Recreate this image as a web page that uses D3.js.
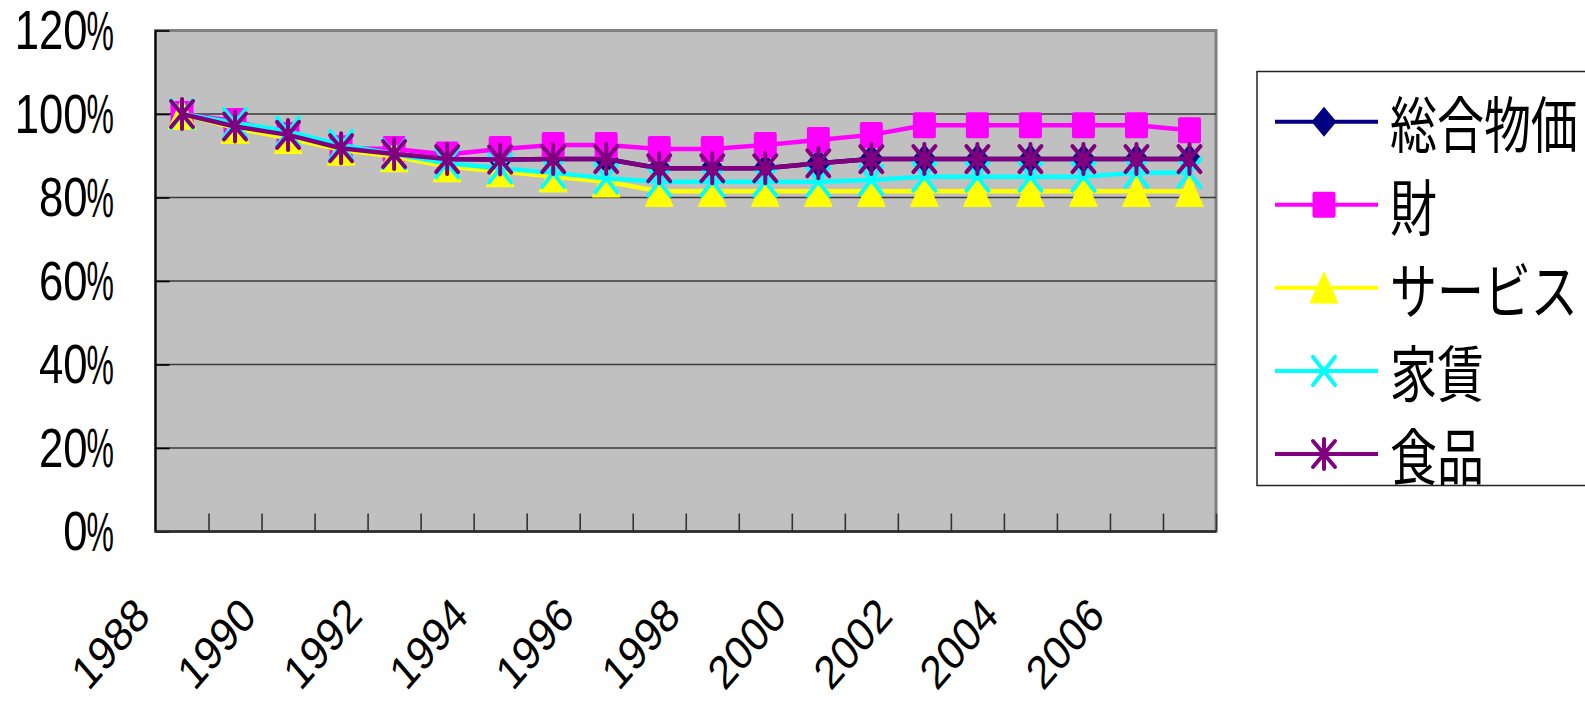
<!DOCTYPE html>
<html>
<head>
<meta charset="utf-8">
<script src="https://cdn.jsdelivr.net/npm/d3@7"></script>
<style>
html,body{margin:0;padding:0;background:#fff;overflow:hidden;}
svg{display:block;}
</style>
</head>
<body>
<svg id="chart" width="1585" height="715"></svg>
<script>
// ---- data ----
const years = [1988,1989,1990,1991,1992,1993,1994,1995,1996,1997,1998,1999,2000,2001,2002,2003,2004,2005,2006,2007];
const yearLabels = ["1988","1990","1992","1994","1996","1998","2000","2002","2004","2006"];
const yTicks = [0,0.2,0.4,0.6,0.8,1.0,1.2];
const seriesNames = ["総合物価","財","サービス","家賃","食品"];
const sogo    = [100,97.0,95.0,91.8,90.4,89.2,89.1,89.2,89.2,87.0,87.0,87.0,88.2,89.2,89.2,89.2,89.2,89.2,89.2,89.2];
const zai     = [100,98.3,95.0,91.8,91.6,90.3,91.6,92.6,92.6,91.6,91.6,92.6,93.8,95.0,97.3,97.3,97.3,97.3,97.3,96.1];
const service = [100,96.6,94.2,91.4,89.8,87.4,86.2,85.0,83.8,81.5,81.5,81.5,81.5,81.5,81.5,81.5,81.5,81.5,81.5,81.5];
const yachin  = [100,97.9,95.8,92.6,90.4,88.2,87.0,85.9,84.6,83.8,83.8,83.8,83.8,84.2,85.0,85.0,85.0,85.0,85.9,85.9];
const shokuhin= [100,97.0,95.0,91.8,90.4,89.2,89.1,89.2,89.2,87.0,87.0,87.0,88.2,89.2,89.2,89.2,89.2,89.2,89.2,89.2];
const seriesValues = [sogo, zai, service, yachin, shokuhin];

// ---- style ----
const colors = ["#000080","#FF00FF","#FFFF00","#00FFFF","#800080"];
const markers = ["diamond","square","triangle","x","star"];

const svg = d3.select("#chart");
const L = 155.5, R = 1216, T = 30.5, B = 531.5;

const x = d3.scaleBand().domain(years).range([L, R]).paddingInner(0).paddingOuter(0);
const y = d3.scaleLinear().domain([0, 1.2]).range([B, T]);
const cx = d => x(d) + x.bandwidth()/2;

// plot area
svg.append("rect").attr("x", L).attr("y", T).attr("width", R-L).attr("height", B-T)
  .attr("fill", "#C0C0C0").attr("stroke", "#808080").attr("stroke-width", 3);

// gridlines
svg.append("g").selectAll("line").data(yTicks.filter(v => v > 0 && v < 1.2)).join("line")
  .attr("x1", L).attr("x2", R).attr("y1", d => y(d)).attr("y2", d => y(d))
  .attr("stroke", "#3a3a3a").attr("stroke-width", 1.5);

// left axis ticks (inside)
const yAxis = d3.axisLeft(y).tickValues(yTicks).tickSize(-14).tickFormat("");
const gy = svg.append("g").attr("transform", `translate(${L},0)`).call(yAxis);
gy.select(".domain").remove();
gy.selectAll(".tick line").attr("stroke", "#000").attr("stroke-width", 1.6);
svg.append("line").attr("x1", L).attr("x2", L).attr("y1", T).attr("y2", B)
  .attr("stroke", "#000").attr("stroke-width", 2);

// bottom axis with category-boundary ticks
const xb = d3.scaleLinear().domain([0, years.length]).range([L, R]);
const xAxis = d3.axisBottom(xb).tickValues(d3.range(1, years.length + 1)).tickSize(-18).tickFormat("");
const gx = svg.append("g").attr("transform", `translate(0,${B})`).call(xAxis);
gx.select(".domain").remove();
gx.selectAll(".tick line").attr("stroke", "#333").attr("stroke-width", 1.6);
svg.append("line").attr("x1", L).attr("x2", R).attr("y1", B).attr("y2", B)
  .attr("stroke", "#2a2a2a").attr("stroke-width", 2.5);

// y labels: number part and % sign with different horizontal compression
const FS = 56, SXD = 0.78, SXP = 0.55;
const pctW = 0.889 * FS * SXP;
const yl = svg.append("g").selectAll("g").data(yTicks).join("g")
  .attr("transform", d => `translate(114,${y(d)})`);
yl.append("g").attr("transform", `scale(${SXP},1)`)
  .append("text").attr("text-anchor", "end").attr("dominant-baseline", "central")
  .attr("font-family", "'Liberation Sans', Arial, sans-serif").attr("font-size", FS)
  .attr("fill", "#000").text("%");
yl.append("g").attr("transform", `translate(${-pctW + 1},0) scale(${SXD},1)`)
  .append("text").attr("text-anchor", "end").attr("dominant-baseline", "central")
  .attr("font-family", "'Liberation Sans', Arial, sans-serif").attr("font-size", FS)
  .attr("fill", "#000").text(d => d3.format(".0f")(d * 100));

// x labels
svg.append("g").selectAll("g").data(yearLabels).join("g")
  .attr("transform", d => `translate(${cx(+d) - 30},618) scale(0.86,1) rotate(-45)`)
  .append("text")
  .attr("text-anchor", "end")
  .attr("font-family", "'Liberation Sans', Arial, sans-serif").attr("font-size", 47)
  .attr("fill", "#000")
  .text(d => d);

// marker drawing
function drawMarker(g, type, color) {
  if (type === "diamond") {
    g.append("path").attr("d", "M0,-15 L12.5,0 L0,15 L-12.5,0 Z").attr("fill", color);
  } else if (type === "square") {
    g.append("rect").attr("x", -11.5).attr("y", -13).attr("width", 23).attr("height", 26)
      .attr("rx", 2).attr("fill", color);
  } else if (type === "triangle") {
    g.append("path").attr("d", "M0,-15 L13.5,15 L-13.5,15 Z").attr("fill", color)
      .attr("stroke", color).attr("stroke-width", 1.5).attr("stroke-linejoin", "round");
  } else if (type === "x") {
    g.append("path").attr("d", "M-11,-14 L11,14 M11,-14 L-11,14")
      .attr("stroke", color).attr("stroke-width", 4).attr("fill", "none").attr("stroke-linecap", "round");
  } else if (type === "star") {
    g.append("path").attr("d", "M0,-15 L0,15 M-11,-13 L11,13 M11,-13 L-11,13")
      .attr("stroke", color).attr("stroke-width", 4).attr("fill", "none").attr("stroke-linecap", "round");
  }
}

// series
const line = d3.line().x((d,i) => cx(years[i])).y(d => y(d/100));
seriesValues.forEach((vals, si) => {
  const g = svg.append("g");
  g.append("path").datum(vals).attr("d", line)
    .attr("fill", "none").attr("stroke", colors[si]).attr("stroke-width", 4.5)
    .attr("stroke-linejoin", "round");
  vals.forEach((v, i) => {
    const mg = g.append("g").attr("transform", `translate(${cx(years[i])},${y(v/100)})`);
    drawMarker(mg, markers[si], colors[si]);
  });
});

// legend
const lg = svg.append("g");
lg.append("rect").attr("x", 1257).attr("y", 71.5).attr("width", 340).attr("height", 414)
  .attr("fill", "#fff").attr("stroke", "#222").attr("stroke-width", 1.5);
const rowY = d3.scaleLinear().domain([0, 4]).range([121.7, 454]);
seriesNames.forEach((name, i) => {
  const yy = rowY(i);
  lg.append("line").attr("x1", 1275).attr("x2", 1378).attr("y1", yy).attr("y2", yy)
    .attr("stroke", colors[i]).attr("stroke-width", 4);
  const mg = lg.append("g").attr("transform", `translate(1324,${yy})`);
  drawMarker(mg, markers[i], colors[i]);
  lg.append("g").attr("transform", `translate(1390,${yy}) scale(0.77,1)`)
    .append("text").attr("dominant-baseline", "central")
    .attr("font-family", "'Noto Sans CJK JP', sans-serif").attr("font-size", 61)
    .attr("fill", "#000").text(name);
});
</script>
</body>
</html>
